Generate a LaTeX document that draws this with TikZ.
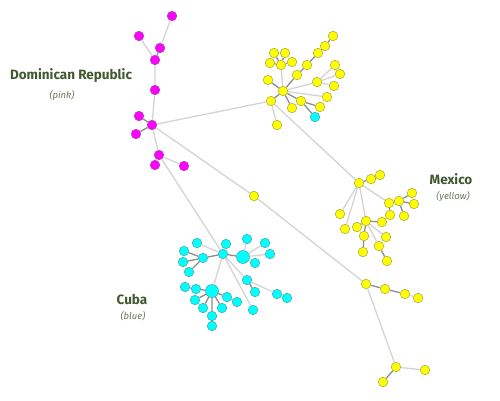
\documentclass[tikz,border=0pt]{standalone}
\usepackage{fontspec}
\newfontfamily\labfont{Fira Sans}
\definecolor{labc}{HTML}{41592F}
\definecolor{subc}{HTML}{6B7A5C}
\definecolor{ltc}{HTML}{D4D4D4}
\definecolor{dkc}{HTML}{8C8C8C}
\definecolor{pkf}{HTML}{FF00FF}
\definecolor{pkd}{HTML}{B040B0}
\definecolor{ylf}{HTML}{FFFF00}
\definecolor{yld}{HTML}{B0B040}
\definecolor{cyf}{HTML}{00FFFF}
\definecolor{cyd}{HTML}{40B0B0}
\begin{document}
\begin{tikzpicture}[x=1pt,y=-1pt,
  nd/.style={circle,inner sep=0pt,minimum size=9.5pt,line width=0.6pt},
  pk/.style={nd,fill=pkf,draw=pkd},
  yl/.style={nd,fill=ylf,draw=yld},
  cy/.style={nd,fill=cyf,draw=cyd},
  big/.style={minimum size=13pt},
  lt/.style={draw=ltc,line width=1.3pt},
  dk/.style={draw=dkc,line width=1.3pt},
  ttl/.style={font=\labfont\bfseries\fontsize{13.5}{15}\selectfont,text=labc,inner sep=0pt},
  sub/.style={font=\labfont\itshape\fontsize{9.5}{11}\selectfont,text=subc,inner sep=0pt}]
\useasboundingbox (0,0) rectangle (500,400);
\fill[white] (0,0) rectangle (500,400);
% labels
\node[ttl] (ldr) at (71,76) {Dominican Republic};
\node[sub] (sdr) at (62,95) {(pink)};
\node[ttl] (lmx) at (451,179) {Mexico};
\node[sub] (smx) at (453,196) {(yellow)};
\node[ttl] (lcu) at (132,299) {Cuba};
\node[sub] (scu) at (133,316) {(blue)};
% pink
\node[pk] (p1) at (172,16) {};
\node[pk] (p2) at (139,36) {};
\node[pk] (p3) at (160,48) {};
\node[pk] (p4) at (155,60) {};
\node[pk] (p5) at (155,90) {};
\node[pk] (p6) at (139,116) {};
\node[pk] (p7) at (152,125) {};
\node[pk] (p8) at (136,134) {};
\node[pk] (p9) at (159,155) {};
\node[pk] (p10) at (155,165) {};
\node[pk] (p11) at (184,166) {};
% yellow upper
\node[yl] (ya) at (283,91) {};
\node[yl] (y1) at (333,36) {};
\node[yl] (y2) at (325,46) {};
\node[yl] (y3) at (318,53) {};
\node[yl] (y4) at (307,65) {};
\node[yl] (y5) at (297,75) {};
\node[yl] (y6) at (274,53) {};
\node[yl] (y7) at (285,53) {};
\node[yl] (y8) at (270,63) {};
\node[yl] (y9) at (292,62) {};
\node[yl] (y10) at (281,65) {};
\node[yl] (y11) at (335,65) {};
\node[yl] (y12) at (340,74) {};
\node[yl] (y13) at (317,82) {};
\node[yl] (y14) at (334,86) {};
\node[yl] (y15) at (268,80) {};
\node[yl] (y16) at (327,97) {};
\node[yl] (y17) at (271,101) {};
\node[yl] (y18) at (301,101) {};
\node[yl] (y19) at (292,108) {};
\node[yl] (y20) at (320,107) {};
\node[cy] (c0) at (315,117) {};
\node[yl] (y21) at (277,125) {};
% mexico
\node[yl] (m0) at (359,183) {};
\node[yl] (m1) at (371,179) {};
\node[yl] (m2) at (380,175) {};
\node[yl] (m3) at (389,203) {};
\node[yl] (m4) at (399,201) {};
\node[yl] (m5) at (412,193) {};
\node[yl] (m6) at (414,204) {};
\node[yl] (m7) at (390,215) {};
\node[yl] (m8) at (404,216) {};
\node[yl] (m9) at (340,214) {};
\node[yl] (m10) at (345,229) {};
\node[yl] (m11) at (357,227) {};
\node[yl] (m12) at (366,221) {};
\node[yl] (m13) at (382,222) {};
\node[yl] (m14) at (364,236) {};
\node[yl] (m15) at (386,237) {};
\node[yl] (m16) at (363,252) {};
\node[yl] (m17) at (379,246) {};
\node[yl] (m18) at (387,261) {};
% yellow lower
\node[yl] (ys) at (254,196) {};
\node[yl] (b0) at (366,284) {};
\node[yl] (b1) at (385,289) {};
\node[yl] (b2) at (405,294) {};
\node[yl] (b3) at (418,298) {};
\node[yl] (b4) at (396,367) {};
\node[yl] (b5) at (425,370) {};
\node[yl] (b6) at (383,382) {};
% cuba
\node[cy] (ch) at (223,254) {};
\node[cy] (c1) at (197,243) {};
\node[cy] (c2) at (226,244) {};
\node[cy] (c3) at (247,239) {};
\node[cy] (c4) at (265,243) {};
\node[cy] (c5) at (184,251) {};
\node[cy,big] (cb1) at (243,257) {};
\node[cy] (c6) at (270,254) {};
\node[cy] (c7) at (203,258) {};
\node[cy] (c8) at (183,262) {};
\node[cy] (c9) at (255,263) {};
\node[cy] (c10) at (189,272) {};
\node[cy] (c11) at (247,280) {};
\node[cy] (c12) at (185,287) {};
\node[cy] (c13) at (196,289) {};
\node[cy,big] (cb2) at (212,291) {};
\node[cy] (c14) at (255,292) {};
\node[cy] (c15) at (277,294) {};
\node[cy] (c16) at (287,298) {};
\node[cy] (c17) at (227,297) {};
\node[cy] (c18) at (237,302) {};
\node[cy] (c19) at (195,300) {};
\node[cy] (c20) at (203,308) {};
\node[cy] (c21) at (222,308) {};
\node[cy] (c22) at (253,310) {};
\node[cy] (c23) at (212,316) {};
\node[cy] (c24) at (212,326) {};
% pink edges
\path[lt] (p1)--(p3) (p2)--(p4) (p4)--(p5) (p5)--(p7) (p7)--(p9) (p9)--(p10) (p9)--(p11);
\path[dk] (p3)--(p4) (p6)--(p7) (p8)--(p7);
% cross edges
\path[lt] (p9)--(ch) (p7)--(y17) (p7)--(ys) (ys)--(b0) (y17)--(m0);
% yellow upper edges
\path[dk] (y1)--(y2) (y2)--(y3) (y3)--(y4) (y4)--(y5) (y5)--(ya)
  (y10)--(y6) (y10)--(y7) (y10)--(y8) (y10)--(y9)
  (y15)--(ya) (ya)--(y17) (ya)--(y18) (ya)--(y19) (y18)--(y20) (y18)--(c0);
\path[lt] (y10)--(ya) (ya)--(y13) (y13)--(y11) (y13)--(y12) (y13)--(y14) (ya)--(y16) (y17)--(y21);
% mexico edges
\path[dk] (m0)--(m1) (m1)--(m2) (m3)--(m4) (m4)--(m5) (m4)--(m6) (m3)--(m7) (m4)--(m8)
  (m12)--(m11) (m12)--(m13) (m12)--(m14) (m14)--(m16) (m17)--(m18);
\path[lt] (m0)--(m3) (m0)--(m9) (m0)--(m10) (m0)--(m12) (m12)--(m15) (m12)--(m17);
% lower yellow edges
\path[dk] (b0)--(b1) (b1)--(b2) (b4)--(b6);
\path[lt] (b2)--(b3) (b0)--(b4) (b4)--(b5);
% cuba edges
\path[lt] (ch)--(c1) (ch)--(c2) (cb1)--(c3) (cb1)--(c4) (cb1)--(c6) (cb1)--(c9)
  (ch)--(cb2) (ch)--(c11) (ch)--(c22) (c11)--(c15);
\path[dk] (ch)--(cb1) (ch)--(c7) (c7)--(c5) (c7)--(c8) (c7)--(c10)
  (c11)--(c14) (c15)--(c16) (c12)--(c13) (c13)--(cb2)
  (cb2)--(c19) (cb2)--(c20) (cb2)--(c21) (cb2)--(c17) (c17)--(c18) (cb2)--(c23) (c23)--(c24);
\end{tikzpicture}
\end{document}
